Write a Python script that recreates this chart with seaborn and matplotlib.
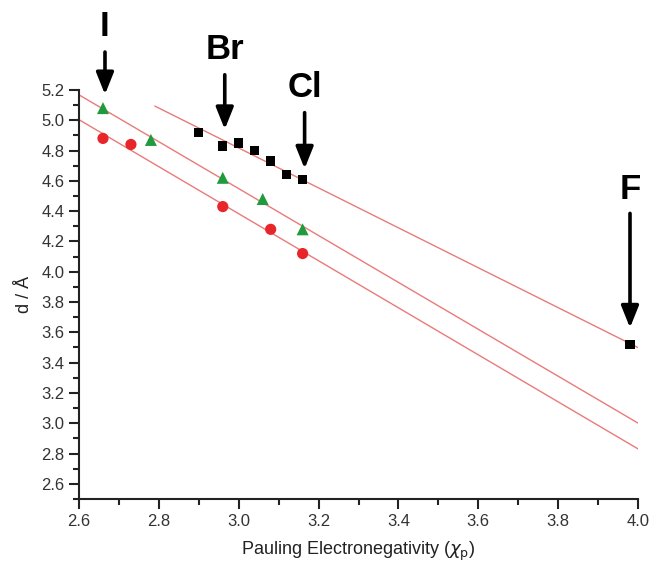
import numpy as np
import pandas as pd
import seaborn as sns
import matplotlib.pyplot as plt
from matplotlib.ticker import MultipleLocator

# values
sq_x = [2.90, 2.96, 3.00, 3.04, 3.08, 3.12, 3.16, 3.98]
sq_y = [4.92, 4.83, 4.85, 4.80, 4.73, 4.64, 4.61, 3.52]
tri_x = [2.66, 2.78, 2.96, 3.06, 3.16]
tri_y = [5.08, 4.87, 4.62, 4.48, 4.28]
circ_x = [2.66, 2.73, 2.96, 3.08, 3.16]
circ_y = [4.88, 4.84, 4.43, 4.28, 4.12]

halogens = ["I", "Br", "Cl", "F"]
halogen_x = [2.665, 2.965, 3.165, 3.98]
halogen_tip_y = [5.17, 4.94, 4.68, 3.63]

sns.set_theme(style="ticks")
plt.rcParams['font.family'] = ['Liberation Sans', 'DejaVu Sans']
plt.rcParams['text.color'] = 'black'
plt.rcParams['axes.labelcolor'] = 'black'

fig = plt.figure(figsize=(6.51, 5.62), dpi=100)
ax = fig.add_axes([0.1214, 0.1121, 0.8586, 0.7279])

line_col = "#ea7a78"

# linear fits, drawn as in the original (black fit starts at 2.79)
for xs, ys, x0 in [(sq_x, sq_y, 2.79), (tri_x, tri_y, 2.6), (circ_x, circ_y, 2.6)]:
    k, b = np.polyfit(xs, ys, 1)
    fx = np.linspace(x0, 4.0, 50)
    sns.lineplot(x=fx, y=k * fx + b, ax=ax, color=line_col, lw=1.0, zorder=1)

sns.scatterplot(x=sq_x, y=sq_y, ax=ax, marker="s", s=45, color="black",
                edgecolor="none", zorder=3)
sns.scatterplot(x=tri_x, y=tri_y, ax=ax, marker="^", s=75, color="#1f9a3c",
                edgecolor="none", zorder=3)
sns.scatterplot(x=circ_x, y=circ_y, ax=ax, marker="o", s=65, color="#e8262a",
                edgecolor="none", zorder=3)

# element labels with arrows
label_pos = [(5.62, 5.45), (5.465, 5.30), (5.215, 5.05), (4.54, 4.385)]
for name, hx, ty, (txt_y, tail_y) in zip(halogens, halogen_x, halogen_tip_y, label_pos):
    ax.annotate("", xy=(hx, ty), xytext=(hx, tail_y),
                arrowprops=dict(arrowstyle="-|>,head_length=0.6,head_width=0.24",
                                color="black", lw=2.6, mutation_scale=22,
                                shrinkA=0, shrinkB=0),
                annotation_clip=False)
    ax.text(hx, txt_y, name, ha="center", va="center", fontsize=25,
            fontweight="bold", clip_on=False)

ax.set_xlim(2.6, 4.0)
ax.set_ylim(2.5, 5.2)
ax.xaxis.set_major_locator(MultipleLocator(0.2))
ax.xaxis.set_minor_locator(MultipleLocator(0.1))
ax.yaxis.set_major_locator(MultipleLocator(0.2))
ax.yaxis.set_minor_locator(MultipleLocator(0.1))
ax.set_yticks(np.arange(2.6, 5.21, 0.2))
ax.tick_params(which="major", length=7, width=1.5, labelsize=12,
               color="#222222", labelcolor="#333333")
ax.tick_params(which="minor", length=4, width=1.5, color="#222222")
for s in ["left", "bottom"]:
    ax.spines[s].set_linewidth(1.5)
    ax.spines[s].set_color("#222222")
sns.despine(ax=ax)

ax.set_xlabel(r"Pauling Electronegativity ($\chi_\mathrm{p}$)", fontsize=13,
              labelpad=8, color="#222222")
ax.set_ylabel("d / Å", fontsize=13, labelpad=6, color="#222222")

fig.savefig("out.png", dpi=100)
